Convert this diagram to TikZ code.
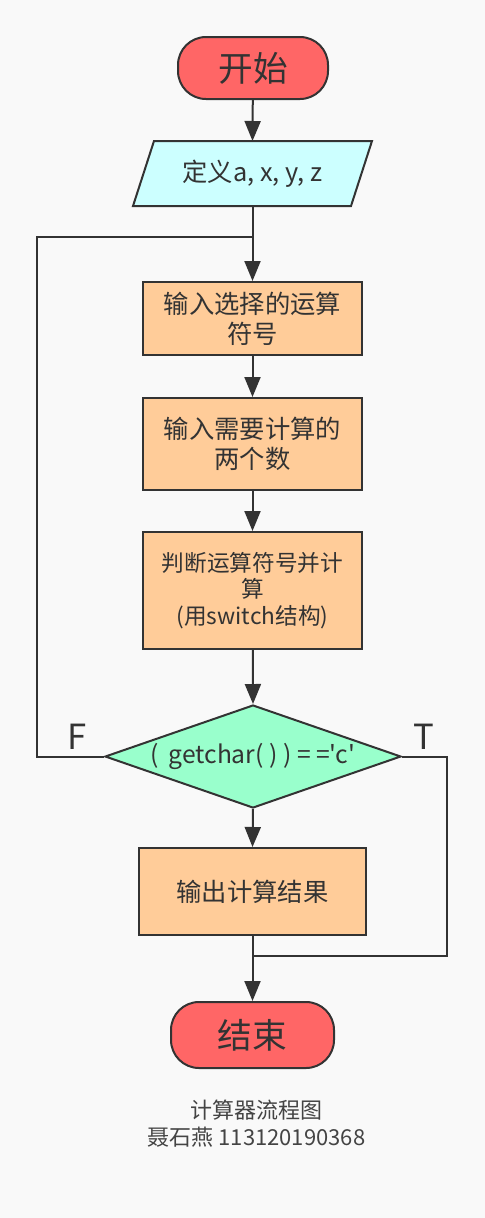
\documentclass[tikz,border=0pt]{standalone}
\usepackage{fontspec}
\setmainfont{Noto Sans CJK SC}
\newfontfamily\decfont[Ligatures=TeXOff]{Noto Sans CJK SC}
\usetikzlibrary{arrows.meta,shapes.geometric,calc}
\definecolor{bg}{HTML}{F9F9F9}
\definecolor{ink}{HTML}{333333}
\definecolor{redfill}{HTML}{FF6666}
\definecolor{cyanfill}{HTML}{CCFFFF}
\definecolor{orangefill}{HTML}{FFCC99}
\definecolor{greenfill}{HTML}{99FFCC}
\definecolor{captxt}{HTML}{444444}
\begin{document}
\begin{tikzpicture}[x=0.75pt,y=-0.75pt,
  line width=1.5pt,
  every node/.style={text=ink},
  term/.style={draw=ink,fill=redfill,rounded corners=21pt,inner sep=0pt,font=\fontsize{26pt}{30pt}\selectfont},
  procbox/.style={draw=ink,fill=orangefill,inner sep=0pt,align=center,minimum width=164.25pt,font=\fontsize{19pt}{22.5pt}\selectfont},
  flow/.style={draw=ink,-{Triangle[length=15pt,width=12pt]}},
  link/.style={draw=ink},
  lbl/.style={font=\fontsize{26pt}{30pt}\selectfont,inner sep=0pt}]
\fill[bg] (0,0) rectangle (485,1218);
\useasboundingbox (0,0) rectangle (485,1218);
% start
\node[term,minimum width=112.5pt,minimum height=46.5pt] (start) at (253,68) {开始};
% define (parallelogram)
\node[inner sep=0pt,minimum width=162pt,minimum height=47.25pt] (def) at (252.5,173.5) {};
\filldraw[draw=ink,fill=cyanfill] ($(def.south west)+(-10.5,0)$) -- ($(def.south east)+(-10.5,0)$) -- ($(def.north east)+(10.5,0)$) -- ($(def.north west)+(10.5,0)$) -- cycle;
\node[font=\fontsize{19pt}{22.5pt}\selectfont] (deft) at (def.center) {定义a, x, y, z};
% boxes
\node[procbox,minimum height=54.75pt] (b1) at (252.5,318.5) {输入选择的运算\\符号};
\node[procbox,minimum height=69pt] (b2) at (252.5,444) {输入需要计算的\\两个数};
\node[procbox,minimum height=87.75pt,font=\fontsize{17pt}{20pt}\selectfont] (b3) at (252.5,590.5) {判断运算符号并计\\算\\(用switch结构)};
% decision
\node[diamond,draw=ink,fill=greenfill,inner sep=0pt,minimum width=222pt,minimum height=77.25pt] (dec) at (253,756.5) {};
\node[font=\decfont\fontsize{18.5pt}{22pt}\selectfont] (dect) at (dec.center) {(\, getchar( ) ) = ='c'};
\node[procbox,minimum width=170.25pt,minimum height=65.25pt] (b4) at (252.5,891.5) {输出计算结果};
\node[term,minimum width=122.25pt,minimum height=49.5pt] (end) at (252.5,1035) {结束};
% labels
\node[lbl] (fl) at (77,737) {F};
\node[lbl] (tl) at (424,737) {T};
% caption
\node[align=center,text=captxt,font=\fontsize{16.5pt}{20pt}\selectfont] (cap) at (256.5,1123.5) {计算器流程图\\聂石燕 113120190368};
% coordinates
\coordinate (j1) at (252.5,237);
\coordinate (lf) at (37,237);
\coordinate (j2) at (252.5,956);
\coordinate (rt) at (447,956);
% connectors
\draw[flow] (start) -- (def.north);
\draw[flow] (def.south) -- (b1.north);
\draw[flow] (b1) -- (b2);
\draw[flow] (b2) -- (b3);
\draw[flow] (b3) -- (dec.north);
\draw[flow] (dec.south) -- (b4.north);
\draw[flow] (b4) -- (end);
\draw[link] (dec.west) -| (lf) -- (j1);
\draw[link] (dec.east) -| (rt) -- (j2);
\end{tikzpicture}
\end{document}
